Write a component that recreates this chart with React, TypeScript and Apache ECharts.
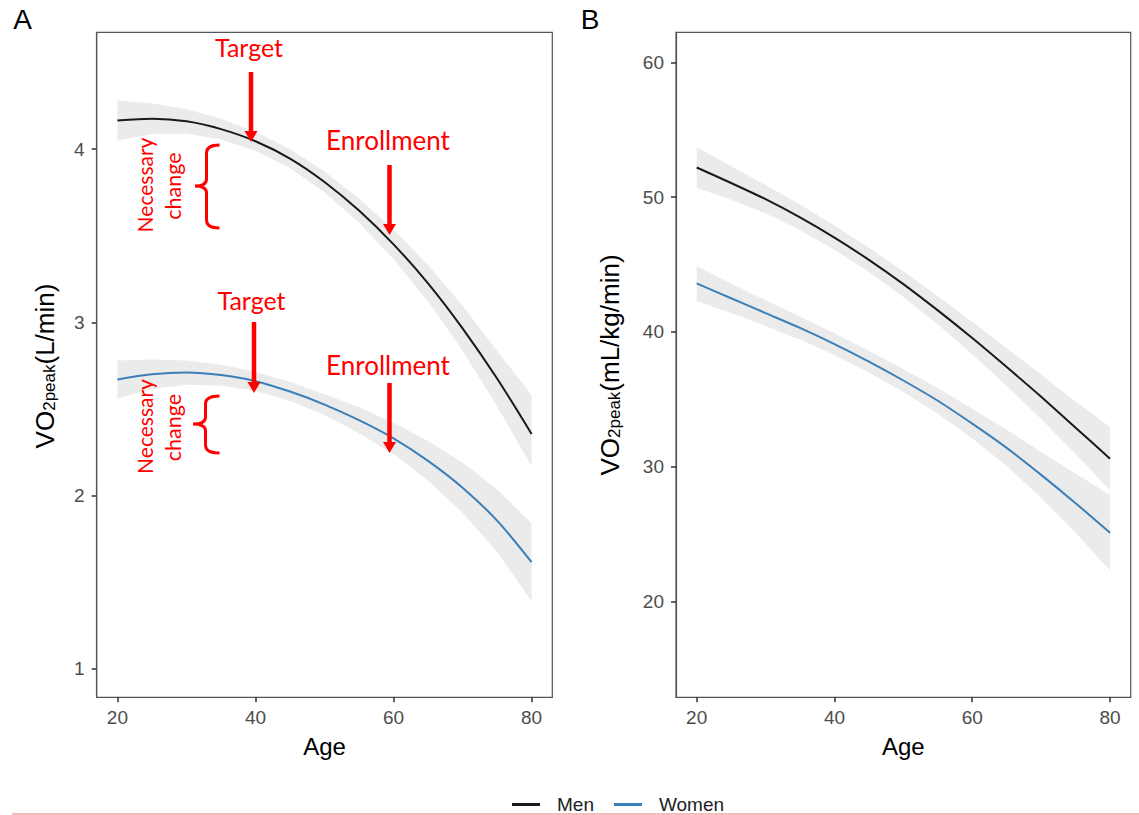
import React, { useEffect, useRef } from "react";
import * as echarts from "echarts";

// ---------- data ----------
const ages = [20, 25, 30, 35, 40, 45, 50, 55, 60, 65, 70, 75, 80];

// Panel A: VO2peak (L/min)
const menA = [4.165, 4.175, 4.16, 4.115, 4.045, 3.945, 3.81, 3.645, 3.45, 3.225, 2.965, 2.675, 2.355];
const menALo = [4.05, 4.085, 4.09, 4.055, 3.99, 3.89, 3.75, 3.575, 3.365, 3.12, 2.835, 2.515, 2.17];
const menAHi = [4.28, 4.265, 4.23, 4.175, 4.1, 4.0, 3.87, 3.715, 3.535, 3.33, 3.095, 2.835, 2.58];
const womenA = [2.67, 2.7, 2.71, 2.695, 2.66, 2.6, 2.525, 2.435, 2.33, 2.2, 2.045, 1.855, 1.615];
const womenALo = [2.56, 2.615, 2.64, 2.635, 2.605, 2.545, 2.465, 2.36, 2.24, 2.085, 1.9, 1.675, 1.39];
const womenAHi = [2.78, 2.785, 2.78, 2.755, 2.715, 2.655, 2.585, 2.51, 2.42, 2.315, 2.19, 2.035, 1.84];

// Panel B: VO2peak (mL/kg/min)
const menB = [52.2, 51.05, 49.85, 48.5, 47.0, 45.35, 43.55, 41.6, 39.55, 37.4, 35.2, 32.9, 30.6];
const menBLo = [50.7, 49.8, 48.8, 47.55, 46.1, 44.45, 42.6, 40.55, 38.35, 36.0, 33.55, 30.95, 28.25];
const menBHi = [53.7, 52.3, 50.9, 49.45, 47.9, 46.25, 44.5, 42.65, 40.75, 38.8, 36.85, 34.85, 32.95];
const womenB = [43.6, 42.5, 41.4, 40.3, 39.1, 37.8, 36.4, 34.9, 33.2, 31.4, 29.4, 27.3, 25.1];
const womenBLo = [42.3, 41.4, 40.45, 39.45, 38.3, 37.0, 35.55, 33.95, 32.1, 30.05, 27.7, 25.1, 22.3];
const womenBHi = [44.9, 43.6, 42.35, 41.15, 39.9, 38.6, 37.25, 35.85, 34.3, 32.75, 31.1, 29.5, 27.9];

const xTicks = [20, 40, 60, 80];
const yTicksA = [1, 2, 3, 4];
const yTicksB = [20, 30, 40, 50, 60];
const legendNames = ["Men", "Women"];

// ---------- styles ----------
const FONT = "'Liberation Sans', Arial, sans-serif";
const ANNOT_FONT = "Lato, 'Open Sans', sans-serif";
const MEN_COLOR = "#1a1a1a";
const WOMEN_COLOR = "#3b7fb8";
const BAND_COLOR = "rgba(153,153,153,0.2)";
const RED = "#ff0000";

const Brace = echarts.graphic.extendShape({
  shape: { xr: 0, xm: 0, xl: 0, y0: 0, ym: 0, y1: 0 },
  buildPath(ctx: any, s: any) {
    const r = 8;
    const r2 = 7;
    ctx.moveTo(s.xr, s.y0);
    ctx.quadraticCurveTo(s.xm, s.y0, s.xm, s.y0 + r);
    ctx.lineTo(s.xm, s.ym - r2);
    ctx.quadraticCurveTo(s.xm, s.ym, s.xl, s.ym);
    ctx.moveTo(s.xl, s.ym);
    ctx.quadraticCurveTo(s.xm, s.ym, s.xm, s.ym + r2);
    ctx.lineTo(s.xm, s.y1 - r);
    ctx.quadraticCurveTo(s.xm, s.y1, s.xr, s.y1);
  },
});
echarts.graphic.registerShape("brace", Brace);

function pairs(vals: number[]) {
  return ages.map((a, i) => [a, vals[i]]);
}

function bandSeries(lo: number[], hi: number[], gi: number) {
  const data = ages.map((a, i) => [a, lo[i], hi[i]]);
  return {
    type: "custom",
    xAxisIndex: gi,
    yAxisIndex: gi,
    data,
    encode: { x: 0, y: [1, 2] },
    silent: true,
    z: 1,
    renderItem: (params: any, api: any) => {
      if (params.dataIndex !== 0) return { type: "group", children: [] };
      const upper = data.map((d) => api.coord([d[0], d[2]]));
      const lower = data.map((d) => api.coord([d[0], d[1]])).reverse();
      return {
        type: "polygon",
        shape: { points: upper.concat(lower) },
        style: { fill: BAND_COLOR },
      };
    },
  };
}

function lineSeries(name: string, vals: number[], color: string, gi: number) {
  return {
    type: "line",
    name,
    xAxisIndex: gi,
    yAxisIndex: gi,
    data: pairs(vals),
    symbol: "none",
    smooth: 0.3,
    lineStyle: { color, width: 2 },
    itemStyle: { color },
    z: 3,
  };
}

function xAxis(gi: number) {
  return {
    type: "value",
    gridIndex: gi,
    min: 17,
    max: 83,
    splitLine: { show: false },
    axisLine: { show: true, onZero: false, lineStyle: { color: "#555", width: 1.2 } },
    axisTick: { show: true, length: 5, lineStyle: { color: "#333", width: 1.5 }, customValues: xTicks },
    axisLabel: { customValues: xTicks, fontSize: 19, color: "#4d4d4d", margin: 11, fontFamily: FONT },
    name: "Age",
    nameLocation: "middle",
    nameGap: 37,
    nameTextStyle: { fontSize: 24, color: "#000", fontFamily: FONT },
  };
}

function yAxis(gi: number, min: number, max: number, ticks: number[]) {
  return {
    type: "value",
    gridIndex: gi,
    min,
    max,
    splitLine: { show: false },
    axisLine: { show: true, onZero: false, lineStyle: { color: "#555", width: 1.2 } },
    axisTick: { show: true, length: 5, lineStyle: { color: "#333", width: 1.5 }, customValues: ticks },
    axisLabel: { customValues: ticks, fontSize: 19, color: "#4d4d4d", margin: 12, fontFamily: FONT },
  };
}

function redText(text: string, x: number, y: number, size: number, rot = 0) {
  return {
    type: "text",
    x,
    y,
    rotation: rot,
    z: 100,
    style: {
      text,
      fill: RED,
      fontSize: size,
      fontFamily: ANNOT_FONT,
      align: "center",
      verticalAlign: "middle",
    },
  };
}

function arrow(x: number, yTop: number, yTip: number) {
  return [
    {
      type: "line",
      z: 100,
      shape: { x1: x, y1: yTop, x2: x, y2: yTip - 9 },
      style: { stroke: RED, lineWidth: 4.5 },
    },
    {
      type: "polygon",
      z: 100,
      shape: { points: [[x - 6.5, yTip - 11], [x + 6.5, yTip - 11], [x, yTip]] },
      style: { fill: RED },
    },
  ];
}

function brace(xr: number, xm: number, xl: number, y0: number, ym: number, y1: number) {
  return {
    type: "brace",
    z: 100,
    shape: { xr, xm, xl, y0, ym, y1 },
    style: { stroke: RED, fill: "none", lineWidth: 3 },
  };
}

function yTitle(x: number, y: number, unit: string) {
  return {
    type: "text",
    x,
    y,
    rotation: Math.PI / 2,
    z: 100,
    style: {
      text: "{a|VO}{b|2peak}{a|" + unit + "}",
      align: "center",
      verticalAlign: "middle",
      rich: {
        a: { fontSize: 26, fontFamily: FONT, fill: "#000", color: "#000" },
        b: { fontSize: 17, fontFamily: FONT, fill: "#000", color: "#000", verticalAlign: "bottom" },
      },
    },
  };
}

export default function App() {
  const ref = useRef<HTMLDivElement>(null);

  useEffect(() => {
    if (!ref.current) return;
    const chart = echarts.init(ref.current, undefined, { renderer: "svg" });

    const option: any = {
      animation: false,
      backgroundColor: "#fff",
      grid: [
        { left: 96.7, top: 32.3, width: 455.6, height: 665, show: true, borderColor: "#555", borderWidth: 1.2 },
        { left: 676, top: 32.3, width: 454.7, height: 665, show: true, borderColor: "#555", borderWidth: 1.2 },
      ],
      xAxis: [xAxis(0), xAxis(1)],
      yAxis: [yAxis(0, 0.835, 4.674, yTicksA), yAxis(1, 12.9, 62.23, yTicksB)],
      legend: {
        data: legendNames,
        left: 507,
        top: 790,
        icon: "rect",
        itemWidth: 28,
        itemHeight: 3,
        itemGap: 20,
        textStyle: { fontSize: 19, color: "#222", fontFamily: FONT, padding: [0, 0, 0, 12] },
      },
      series: [
        bandSeries(menALo, menAHi, 0),
        bandSeries(womenALo, womenAHi, 0),
        bandSeries(menBLo, menBHi, 1),
        bandSeries(womenBLo, womenBHi, 1),
        lineSeries("Men", menA, MEN_COLOR, 0),
        lineSeries("Women", womenA, WOMEN_COLOR, 0),
        lineSeries("Men", menB, MEN_COLOR, 1),
        lineSeries("Women", womenB, WOMEN_COLOR, 1),
      ],
      graphic: [
        { type: "text", x: 22.5, y: 19.5, z: 100, style: { text: "A", fontSize: 28, fontFamily: FONT, fill: "#000", align: "center", verticalAlign: "middle" } },
        { type: "text", x: 590, y: 19.5, z: 100, style: { text: "B", fontSize: 28, fontFamily: FONT, fill: "#000", align: "center", verticalAlign: "middle" } },
        yTitle(45, 366, "(L/min)"),
        yTitle(610, 365, "(mL/kg/min)"),
        redText("Target", 249, 47, 25),
        ...arrow(251, 72, 142),
        redText("Enrollment", 388, 140, 26),
        ...arrow(389.5, 165, 235),
        brace(219.5, 206.5, 195, 145, 186, 228),
        redText("Necessary", 144, 185, 21, Math.PI / 2),
        redText("change", 173, 186, 21.5, Math.PI / 2),
        redText("Target", 251.5, 300, 25),
        ...arrow(254, 322, 393),
        redText("Enrollment", 388, 365, 26),
        ...arrow(389.5, 383, 453),
        brace(219.5, 205.5, 193, 396, 424, 453),
        redText("Necessary", 144, 426.5, 21, Math.PI / 2),
        redText("change", 172.5, 427.5, 21.5, Math.PI / 2),
        { type: "line", z: 100, shape: { x1: 12, y1: 814, x2: 1139, y2: 814 }, style: { stroke: "#f4a7a7", lineWidth: 1.5 } },
      ],
    };

    chart.setOption(option);
    return () => chart.dispose();
  }, []);

  return (
    <div
      ref={ref}
      style={{ position: "fixed", left: 0, top: 0, width: 1139, height: 815, background: "#fff" }}
    />
  );
}
